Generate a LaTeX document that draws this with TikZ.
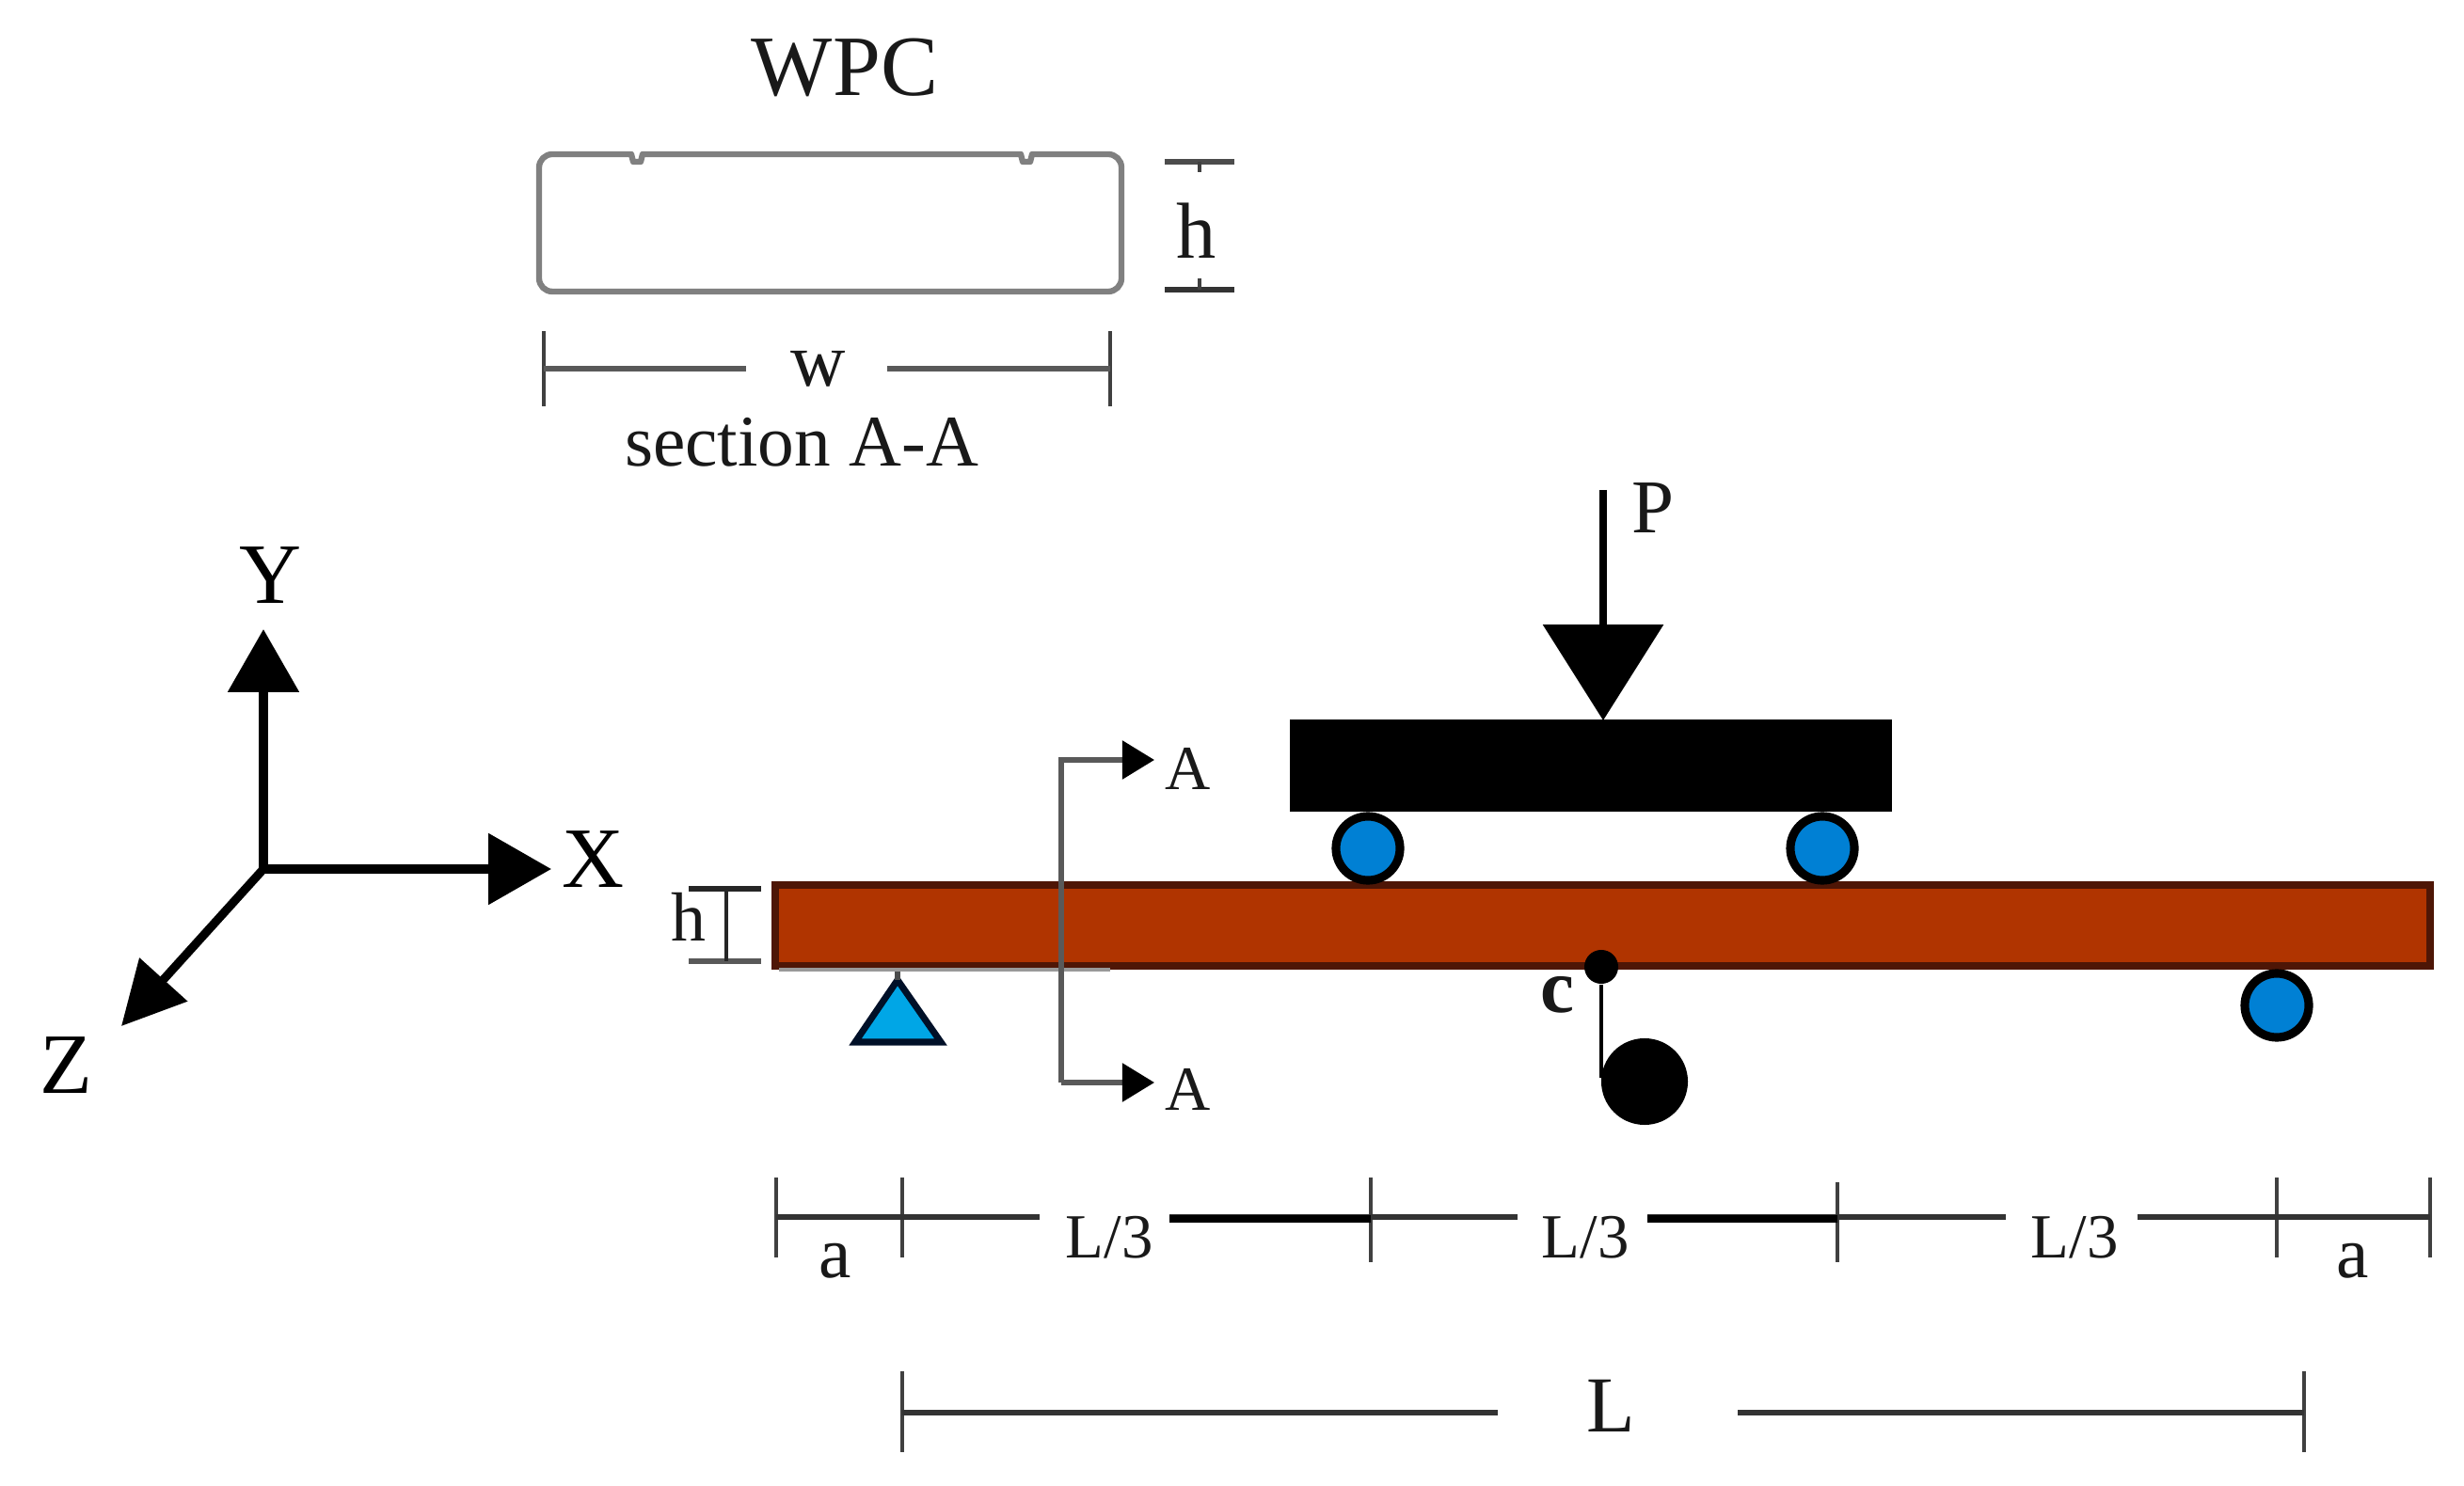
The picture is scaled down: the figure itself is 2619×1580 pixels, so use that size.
\documentclass[tikz,border=0pt]{standalone}
\usepackage{fontspec}
\setmainfont{Liberation Serif}
\usetikzlibrary{arrows.meta}

\definecolor{beamfill}{HTML}{B03400}
\definecolor{beamedge}{HTML}{4E1606}
\definecolor{rollerfill}{HTML}{0080D4}
\definecolor{pinfill}{HTML}{00A6E6}
\definecolor{pinedge}{HTML}{001028}

\tikzset{
  lbl/.style={inner sep=0pt, anchor=base, text=black!90, font=\fontsize{#1}{#1}\selectfont},
  dim/.style={line width=1.6pt, draw=black!80},
  tick/.style={line width=1.1pt, draw=black!75},
  axis/.style={line width=2.6pt, -{Triangle[length=19pt,width=21pt]}},
  cutline/.style={line width=1.6pt, draw=black!65, -{Triangle[length=9.7pt,width=11.4pt,color=black]}},
  roller/.style={circle, draw=black, line width=2.6pt, fill=rollerfill, minimum size=68*0.2845pt, inner sep=0pt},
}

\begin{document}
\begin{tikzpicture}[x=0.01cm, y=-0.01cm]
\useasboundingbox (0,0) rectangle (2619,1580);

% section A-A
\node[lbl=26] (wpc) at (898,102) {WPC};
\draw[draw=black!50, line width=1.8pt, line join=round, rounded corners=4pt]
  (625,164) [sharp corners] -- (671,164) -- (673,172) -- (681,172) -- (683,164) -- (1085,164)
  -- (1087,172) -- (1095,172) -- (1097,164) [rounded corners=4pt] -- (1192,164) -- (1192,310)
  -- (573,310) -- (573,164) -- cycle;
\coordinate (ht1) at (1238,172); \coordinate (ht2) at (1312,172);
\coordinate (hb1) at (1238,308); \coordinate (hb2) at (1312,308);
\draw[dim, draw=black!70] (ht1) -- (ht2);
\draw[dim] (hb1) -- (hb2);
\draw[tick] (1275,172) -- (1275,183);
\draw[tick] (1275,296) -- (1275,308);
\node[lbl=24] (hsec) at (1272,275) {h};
\draw[tick] (578,352) -- (578,432);
\draw[tick] (1180,352) -- (1180,432);
\draw[dim, draw=black!65] (578,392) -- (793,392);
\draw[dim, draw=black!65] (943,392) -- (1180,392);
\node[lbl=23] (wlab) at (870,411) {w};
\node[lbl=22] (seclab) at (852,496) {section A-A};

% axes
\coordinate (o) at (280,924);
\coordinate (ytip) at (280,669);
\coordinate (xtip) at (586,924);
\coordinate (ztip) at (129,1091);
\draw[axis] (o) -- (ytip);
\draw[axis] (o) -- (xtip);
\draw[axis, -{Triangle[length=19pt,width=19pt]}] (o) -- (ztip);
\node[lbl=26, text=black] (ylab) at (288,642) {Y};
\node[lbl=26, text=black] (xlab) at (631,944) {X};
\node[lbl=26, text=black] (zlab) at (70,1162) {Z};

% section cut arrows
\coordinate (ctop) at (1128,808);
\coordinate (cbot) at (1128,1151);
\coordinate (ctopt) at (1227,808);
\coordinate (cbott) at (1227,1151);

% beam and supports
\draw[draw=pinedge, fill=pinfill, line width=2pt, line join=miter] (954,1042) -- (1000,1108) -- (909,1108) -- cycle;
\draw[line width=1.7pt, draw=black!70] (954,1028) -- (954,1042);
\draw[draw=beamedge, fill=beamfill, line width=2.2pt] (824,941) rectangle (2583,1027);
\draw[line width=1.2pt, draw=black!40] (828,1031) -- (1180,1031);
\draw[cutline] (cbot) -- (ctop) -- (ctopt);
\draw[cutline] (cbot) -- (cbott);
\node[lbl=19] (a1) at (1263,840) {A};
\node[lbl=19] (a2) at (1263,1180) {A};

% loading plate and rollers
\node[roller] (r1) at (1454,902) {};
\node[roller] (r2) at (1937,902) {};
\node[roller] (r3) at (2420,1069) {};
\fill[black] (1371,765) rectangle (2011,863);
\coordinate (ptop) at (1704,521);
\coordinate (ptip) at (1704,766);
\draw[line width=2.4pt, -{Triangle[length=29pt,width=36pt]}] (ptop) -- (ptip);
\node[lbl=23] (plab) at (1757,567) {P};

% centre point and hanging mass
\node[circle, fill=black, minimum size=36*0.2845pt, inner sep=0pt] (cp) at (1702,1028) {};
\node[circle, fill=black, minimum size=92*0.2845pt, inner sep=0pt] (mass) at (1748,1150) {};
\draw[line width=1.4pt] (cp) -- (1702,1146);
\node[lbl=23, font=\fontsize{23}{23}\selectfont\bfseries] (clab) at (1655,1076) {c};

% beam height
\draw[dim, draw=black!85] (732,945) -- (809,945);
\draw[dim, draw=black!65] (732,1022) -- (809,1022);
\draw[tick, draw=black!85] (772,945) -- (772,1022);
\node[lbl=21] (hbeam) at (732,1001) {h};

% span dimensions
\foreach \x/\ya/\yb in {825/1252/1337, 959/1252/1337, 1457/1252/1342, 1953/1257/1342, 2420/1252/1337, 2583/1252/1337}
  \draw[tick] (\x,\ya) -- (\x,\yb);
\draw[dim] (825,1294) -- (1105,1294);
\draw[dim] (1243,1294) -- (1613,1294);
\draw[dim] (1751,1294) -- (2132,1294);
\draw[dim] (2272,1294) -- (2583,1294);
\draw[line width=2pt] (1243,1296) -- (1457,1296);
\draw[line width=2pt] (1751,1296) -- (1953,1296);
\node[lbl=19] (l1) at (1179,1337) {L/3};
\node[lbl=19] (l2) at (1685,1337) {L/3};
\node[lbl=19] (l3) at (2205,1337) {L/3};
\node[lbl=22] (a3) at (888,1358) {a};
\node[lbl=22] (a4) at (2501,1358) {a};

\draw[tick] (959,1458) -- (959,1544);
\draw[tick] (2449,1458) -- (2449,1544);
\draw[dim] (959,1502) -- (1592,1502);
\draw[dim] (1847,1502) -- (2449,1502);
\node[lbl=24] (llab) at (1712,1522) {L};
\end{tikzpicture}
\end{document}
